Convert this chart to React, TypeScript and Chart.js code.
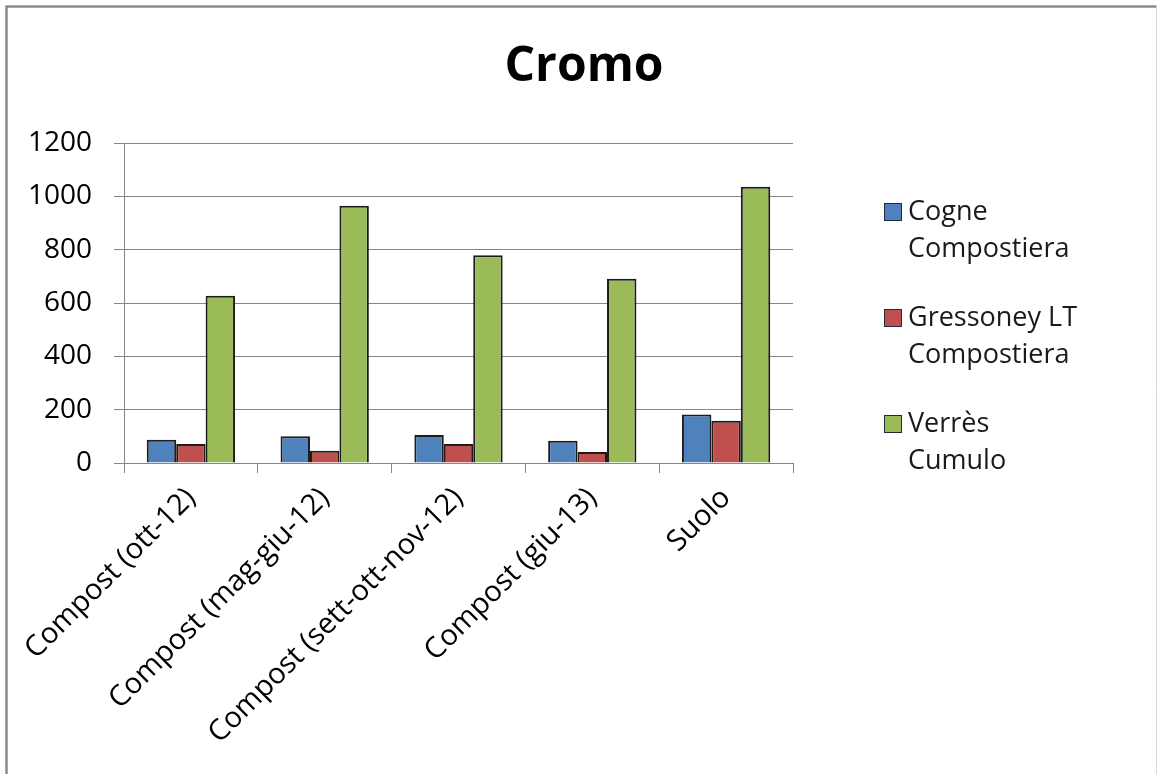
import React, { useEffect, useRef } from "react";
import { Chart, registerables } from "chart.js";

Chart.register(...registerables);

const TITLE = "Cromo";
const categories = [
  "Compost (ott-12)",
  "Compost (mag-giu-12)",
  "Compost (sett-ott-nov-12)",
  "Compost (giu-13)",
  "Suolo",
];
const seriesNames = [
  ["Cogne", "Compostiera"],
  ["Gressoney LT", "Compostiera"],
  ["Verrès", "Cumulo"],
];
const cogne = [87, 100, 105, 83, 182];
const gressoney = [71, 46, 71, 41, 158];
const verres = [627, 965, 779, 691, 1036];
const yTicks = [0, 200, 400, 600, 800, 1000, 1200];
const colors = ["#4F81BD", "#C0504D", "#9BBB59"];

const FONT = '"Open Sans", "Noto Sans", sans-serif';

const decorPlugin = {
  id: "decor",
  afterDraw(chart: any) {
    const ctx = chart.ctx;
    ctx.save();
    // outer frame
    ctx.strokeStyle = "#8a8a8a";
    ctx.lineWidth = 2.5;
    ctx.beginPath();
    ctx.moveTo(6.5, 800);
    ctx.lineTo(6.5, 6.5);
    ctx.lineTo(1156.5, 6.5);
    ctx.stroke();
    ctx.strokeStyle = "#d8d8d8";
    ctx.lineWidth = 1;
    ctx.beginPath();
    ctx.moveTo(1156.5, 6.5);
    ctx.lineTo(1156.5, 800);
    ctx.stroke();
    // title
    ctx.fillStyle = "#000";
    ctx.font = `bold 48px ${FONT}`;
    ctx.textAlign = "center";
    ctx.textBaseline = "middle";
    ctx.fillText(TITLE, 584, 67);
    // legend
    const ds = chart.data.datasets;
    ctx.font = `27px ${FONT}`;
    ctx.textAlign = "left";
    ctx.textBaseline = "middle";
    const startY = 212;
    const itemGap = 106;
    const lineH = 37;
    ds.forEach((d: any, i: number) => {
      const y = startY + i * itemGap;
      ctx.fillStyle = d.backgroundColor;
      ctx.fillRect(884, y - 9, 18, 18);
      ctx.strokeStyle = "#1f2a3a";
      ctx.lineWidth = 1;
      ctx.strokeRect(884.5, y - 8.5, 17, 17);
      ctx.fillStyle = "#1a1a1a";
      const lines = seriesNames[i];
      lines.forEach((t, j) => ctx.fillText(t, 908, y + j * lineH));
    });
    ctx.restore();
  },
};

export default function App() {
  const ref = useRef<HTMLCanvasElement>(null);
  useEffect(() => {
    const canvas = ref.current!;
    const chart = new Chart(canvas, {
      type: "bar",
      data: {
        labels: categories,
        datasets: [cogne, gressoney, verres].map((v, i) => ({
          label: seriesNames[i].join(" "),
          data: v,
          backgroundColor: colors[i],
          borderColor: "#1c1c1c",
          borderWidth: 2,
          categoryPercentage: 0.66,
          barPercentage: 1,
        })),
      },
      options: {
        animation: false,
        responsive: false,
        devicePixelRatio: 1,
        layout: { padding: { left: 0, top: 143, right: 366, bottom: 0 } },
        plugins: {
          legend: { display: false },
          title: { display: false },
          tooltip: { enabled: false },
        },
        scales: {
          x: {
            grid: {
              drawOnChartArea: false,
              drawTicks: true,
              tickLength: 10,
              color: "#868686",
              offset: true,
            },
            border: { color: "#868686", width: 1 },
            ticks: {
              autoSkip: false,
              minRotation: 45,
              maxRotation: 45,
              padding: 8,
              color: "#000",
              font: { family: FONT, size: 29 },
            },
            afterFit(scale: any) {
              scale.height = 311;
              scale.paddingLeft = 0;
              scale.paddingRight = 0;
            },
          },
          y: {
            min: 0,
            max: 1200,
            afterBuildTicks(scale: any) {
              scale.ticks = yTicks.map((v) => ({ value: v }));
            },
            grid: {
              color: "#868686",
              tickLength: 10,
              drawTicks: true,
            },
            border: { color: "#868686", width: 1 },
            ticks: {
              padding: 22,
              color: "#000",
              font: { family: FONT, size: 28 },
              callback: (v: any) => String(v),
            },
            afterFit(scale: any) {
              scale.width = 124;
            },
          },
        },
      },
      plugins: [decorPlugin],
    });
    return () => chart.destroy();
  }, []);
  return (
    <div style={{ position: "absolute", left: 0, top: 0, width: 1159, height: 774, background: "#fff" }}>
      <canvas ref={ref} width={1159} height={774} style={{ display: "block" }} />
    </div>
  );
}
